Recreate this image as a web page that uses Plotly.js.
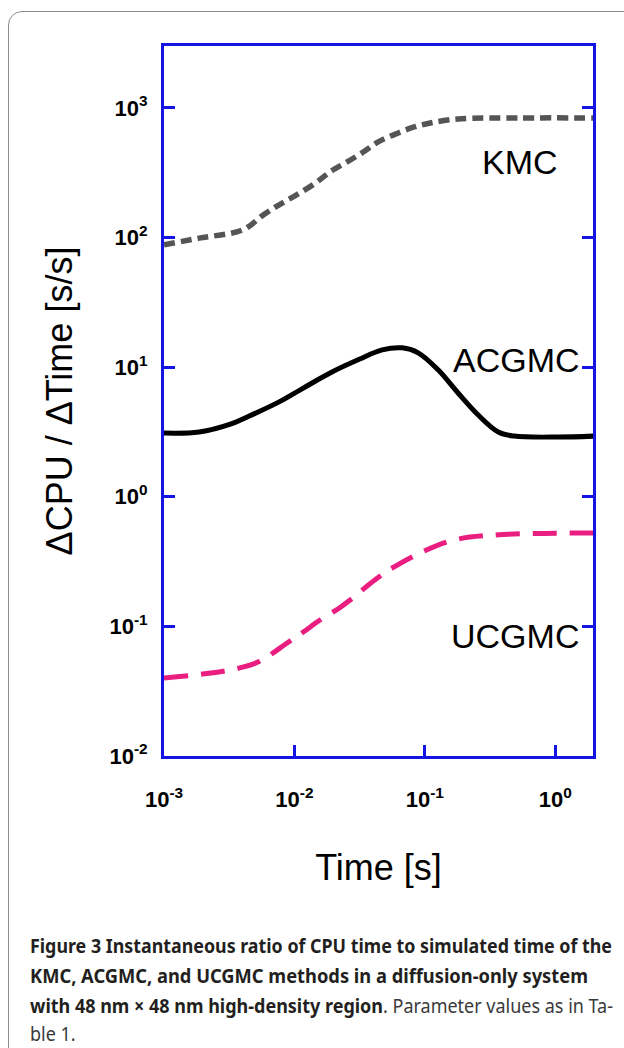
<!DOCTYPE html>
<html>
<head>
<meta charset="utf-8">
<script src="https://cdn.plot.ly/plotly-3.0.1.min.js"></script>
<style>
  html, body { margin: 0; padding: 0; background: #ffffff; }
  body { width: 624px; height: 1048px; position: relative; overflow: hidden; }
  #card { position: absolute; left: 8px; top: 11px; width: 640px; height: 1060px;
          border: 1.5px solid #8c8c8c; border-radius: 14px; box-sizing: border-box; }
  #chart { position: absolute; left: 0; top: 0; width: 624px; height: 1048px; }
  .cap { position: absolute; left: 30px; white-space: nowrap; font-family: 'Noto Sans', 'Open Sans', sans-serif;
         font-size: 19px; line-height: 30px; color: #231f20; transform-origin: 0 0; }
  .cap b { font-weight: 700; }
  .cap .r { font-weight: 400; color: #3a3a3a; }
</style>
</head>
<body>
<div id="card"></div>
<div id="chart"></div>
<div class="cap" id="c1" data-w="582" style="top:931px"><b>Figure 3</b> <b>Instantaneous ratio of CPU time to simulated time of the</b></div>
<div class="cap" id="c2" data-w="558" style="top:961px"><b>KMC, ACGMC, and UCGMC methods in a diffusion-only system</b></div>
<div class="cap" id="c3" data-w="583" style="top:991px"><b>with 48 nm × 48 nm high-density region</b><span class="r">. Parameter values as in Ta-</span></div>
<div class="cap" id="c4" style="top:1019px"><span class="r">ble 1.</span></div>
<script>
// ---- data ----
const kmcTime = [0.001, 0.00186, 0.00404, 0.00575, 0.00764, 0.0101, 0.0144, 0.0191, 0.0254, 0.0337, 0.0439, 0.0625, 0.083, 0.110, 0.180, 0.521, 1.99];
const kmcRatio = [88, 99, 115, 149, 179, 210, 262, 325, 383, 457, 547, 641, 713, 766, 822, 837, 837];

const acgmcTime = [0.001, 0.00186, 0.00327, 0.00499, 0.00764, 0.0117, 0.0191, 0.0314, 0.0471, 0.0671, 0.089, 0.127, 0.180, 0.257, 0.366, 0.485, 1.06, 1.99];
const acgmcRatio = [3.10, 3.16, 3.65, 4.4, 5.4, 6.9, 9.1, 11.5, 13.6, 14.1, 12.9, 9.5, 6.32, 4.27, 3.16, 2.94, 2.89, 2.94];

const ucgmcTime = [0.001, 0.0023, 0.00377, 0.00536, 0.00879, 0.0117, 0.0155, 0.0220, 0.0272, 0.0416, 0.0582, 0.0955, 0.168, 0.341, 1.99];
const ucgmcRatio = [0.040, 0.0437, 0.0477, 0.0535, 0.0744, 0.0905, 0.111, 0.138, 0.162, 0.229, 0.288, 0.375, 0.464, 0.507, 0.526];

const seriesNames = ['KMC', 'ACGMC', 'UCGMC'];

const xTickVals = [0.001, 0.01, 0.1, 1];
const xTickText = ['10<sup>-3</sup>', '10<sup>-2</sup>', '10<sup>-1</sup>', '10<sup>0</sup>'];
const yTickVals = [0.01, 0.1, 1, 10, 100, 1000];
const yTickText = ['10<sup>-2</sup>', '10<sup>-1</sup>', '10<sup>0</sup>', '10<sup>1</sup>', '10<sup>2</sup>', '10<sup>3</sup>'];

const xTitle = 'Time [s]';
const yTitle = 'ΔCPU / ΔTime [s/s]';

// ---- chart ----
const axisBlue = '#1414e6';
const traces = [
  { x: kmcTime, y: kmcRatio, name: seriesNames[0], mode: 'lines',
    line: { color: '#555555', width: 5.5, dash: '11px,6px', shape: 'spline', smoothing: 1 } },
  { x: acgmcTime, y: acgmcRatio, name: seriesNames[1], mode: 'lines',
    line: { color: '#000000', width: 5, shape: 'spline', smoothing: 1 } },
  { x: ucgmcTime, y: ucgmcRatio, name: seriesNames[2], mode: 'lines',
    line: { color: '#e91e80', width: 5, dash: '24px,13px', shape: 'spline', smoothing: 1 } }
];

const tickFont = { family: 'Liberation Sans, Arial, sans-serif', size: 22, color: '#000', weight: 'bold' };
const titleFont = { family: 'Liberation Sans, Arial, sans-serif', size: 36, color: '#000' };
const labelFont = { family: 'Liberation Sans, Arial, sans-serif', size: 34, color: '#000' };

const layout = {
  width: 624, height: 1048,
  margin: { l: 164, r: 31, t: 46, b: 292, pad: 0 },
  paper_bgcolor: 'rgba(0,0,0,0)', plot_bgcolor: 'rgba(0,0,0,0)',
  showlegend: false,
  xaxis: {
    type: 'log', range: [-3, 0.29], showgrid: false, zeroline: false,
    showline: true, linecolor: axisBlue, linewidth: 3, mirror: true,
    ticks: 'inside', ticklen: 11, tickwidth: 3, tickcolor: axisBlue,
    tickvals: xTickVals, ticktext: xTickText, tickfont: tickFont, ticklabelstandoff: 22,
    title: { text: xTitle, font: titleFont, standoff: 44 }
  },
  yaxis: {
    type: 'log', range: [-2, 3.478], showgrid: false, zeroline: false,
    showline: true, linecolor: axisBlue, linewidth: 3, mirror: 'ticks',
    ticks: 'inside', ticklen: 11, tickwidth: 3, tickcolor: axisBlue,
    tickvals: yTickVals, ticktext: yTickText, tickfont: tickFont, ticklabelstandoff: 9,
    title: { text: yTitle, font: titleFont, standoff: 26 }
  },
  annotations: [
    { text: seriesNames[0], xref: 'paper', yref: 'paper', x: 0.83, y: 0.837, xanchor: 'center', yanchor: 'middle', showarrow: false, font: labelFont },
    { text: seriesNames[1], xref: 'paper', yref: 'paper', x: 0.822, y: 0.558, xanchor: 'center', yanchor: 'middle', showarrow: false, font: labelFont },
    { text: seriesNames[2], xref: 'paper', yref: 'paper', x: 0.818, y: 0.169, xanchor: 'center', yanchor: 'middle', showarrow: false, font: labelFont }
  ]
};

Plotly.newPlot('chart', traces, layout, { displayModeBar: false, staticPlot: true });

// ---- caption: fit each justified line to its measured width ----
let lastScale = 1;
['c1', 'c2', 'c3', 'c4'].forEach(id => {
  const el = document.getElementById(id);
  const target = el.dataset.w ? parseFloat(el.dataset.w) : null;
  const w = el.getBoundingClientRect().width;
  const s = target ? target / w : lastScale;
  el.style.transform = 'scaleX(' + s + ')';
  lastScale = s;
});
</script>
</body>
</html>
